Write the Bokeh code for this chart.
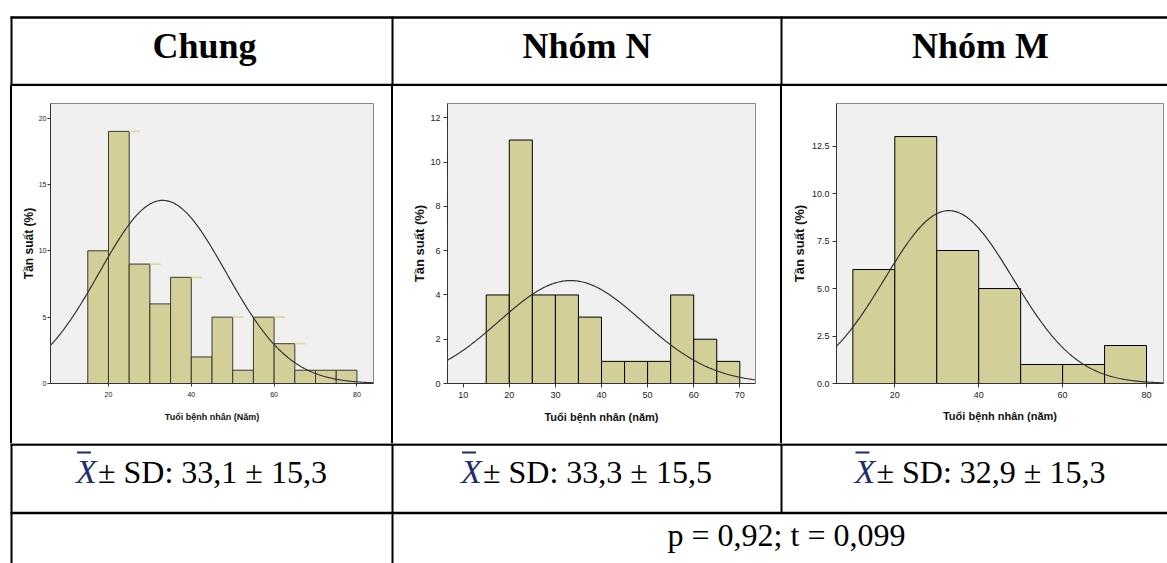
import numpy as np
from bokeh.plotting import figure
from bokeh.layouts import column, row
from bokeh.models import Range1d, Div, Spacer, FixedTicker, NumeralTickFormatter
from bokeh.core.properties import value
from bokeh.embed import file_html
from bokeh.resources import INLINE

# ---- table content -------------------------------------------------------
headers = ["Chung", "Nhóm N", "Nhóm M"]
means = [33.1, 33.3, 32.9]
sds = [15.3, 15.5, 15.3]
p_text = "p = 0,92; t = 0,099"

# ---- age histograms (percent per age bin) --------------------------------
chung_edges = [15, 20, 25, 30, 35, 40, 45, 50, 55, 60, 65, 70, 75, 80]
chung_counts = [10, 19, 9, 6, 8, 2, 5, 1, 5, 3, 1, 1, 1]
n_edges = [15, 20, 25, 30, 35, 40, 45, 50, 55, 60, 65, 70]
n_counts = [4, 11, 4, 4, 3, 1, 1, 1, 4, 2, 1]
m_edges = [10, 20, 30, 40, 50, 60, 70, 80]
m_counts = [6, 13, 7, 5, 1, 1, 2]
# peak height of the fitted normal curve in each panel
curve_peaks = [13.8, 4.65, 9.1]
# bins of the "Chung" panel whose top edge carries a pale highlight stroke
chung_highlight_bins = [1, 2, 4, 6, 8, 9]

x_labels = ["Tuổi bệnh nhân (Năm)", "Tuổi bệnh nhân (năm)", "Tuổi bệnh nhân (năm)"]
y_label = "Tần suất (%)"

SERIF = value("Liberation Serif")
SANS = "Liberation Sans"
BAR_FILL = "#d3cf98"
FRAME_FILL = "#f0f0f0"

PAGE_W = 1167
HEAD_H = 86
ROW_H = 357
FOOT_H = 120
RULE = "black"
BODY_SIZE = 32          # px, body text of the table
XBAR_COLOR = "#1f2d6b"

# vertical anchor of each text line (page pixels)
HEAD_Y = 45
STAT_Y = 471
P_Y = 534
OVERLINE_Y = 452


def fmt(v):
    return f"{v:.1f}".replace(".", ",")


def histogram(edges, counts, mean, sd, peak, xr, yr, xticks, yticks,
              width, borders, xlabel, tick_size, label_sizes, yfmt=None,
              bar_line="black", standoffs=(3, 1, 4, 8), tick_out=4):
    left, right, top, bottom = borders
    p = figure(width=width, height=ROW_H, x_range=Range1d(*xr), y_range=Range1d(*yr),
               output_backend="svg", toolbar_location=None,
               min_border_left=left, min_border_right=right,
               min_border_top=top, min_border_bottom=bottom, margin=0)
    p.background_fill_color = FRAME_FILL
    p.border_fill_color = "white"
    p.outline_line_color = "#8a8a8a"
    p.outline_line_width = 1
    p.xgrid.visible = False
    p.ygrid.visible = False

    p.quad(left=edges[:-1], right=edges[1:], bottom=0, top=counts,
           fill_color=BAR_FILL, line_color=bar_line, line_width=1)

    xs = np.linspace(xr[0], xr[1], 300)
    ys = peak * np.exp(-0.5 * ((xs - mean) / sd) ** 2)
    p.line(xs, ys, line_color="#333333", line_width=1.2)

    for ax, ticks in ((p.xaxis, xticks), (p.yaxis, yticks)):
        ax.ticker = FixedTicker(ticks=ticks)
        ax.axis_line_color = "#333333"
        ax.major_tick_line_color = "#333333"
        ax.major_tick_out = tick_out
        ax.major_tick_in = 0
        ax.minor_tick_line_color = None
        ax.major_label_text_font = SANS
        ax.major_label_text_font_size = tick_size
        ax.major_label_text_color = "#222222"
        ax.axis_label_text_font = SANS
        ax.axis_label_text_font_style = "bold"
        ax.axis_label_text_color = "#111111"
    p.yaxis.major_label_standoff = standoffs[0]
    p.yaxis.axis_label_standoff = standoffs[1]
    p.xaxis.major_label_standoff = standoffs[2]
    p.xaxis.axis_label_standoff = standoffs[3]
    p.yaxis.major_label_orientation = "horizontal"
    if yfmt:
        p.yaxis.formatter = NumeralTickFormatter(format=yfmt)
    p.xaxis.axis_label = xlabel
    p.yaxis.axis_label = y_label
    p.xaxis.axis_label_text_font_size = label_sizes[0]
    p.yaxis.axis_label_text_font_size = label_sizes[1]
    return p


# ---- histogram panels ----------------------------------------------------
h_chung = histogram(chung_edges, chung_counts, means[0], sds[0], curve_peaks[0],
                    (6, 84), (0, 21.1), [20, 40, 60, 80], [0, 5, 10, 15, 20],
                    379, (38, 18, 9, 60), x_labels[0], "7px", ("9px", "12px"),
                    bar_line="#3a3a34", standoffs=(1, 0, 5, 12), tick_out=3)
# pale strokes along some bar tops
hb = chung_highlight_bins
h_chung.segment(x0=[chung_edges[i + 1] for i in hb], x1=[chung_edges[i + 1] + 2.6 for i in hb],
                y0=[chung_counts[i] for i in hb], y1=[chung_counts[i] for i in hb],
                line_color="#dedb98", line_width=1.8)

h_n = histogram(n_edges, n_counts, means[1], sds[1], curve_peaks[1],
                (6.6, 73.4), (0, 12.65), list(range(10, 71, 10)), list(range(0, 13, 2)),
                387, (54, 25, 10, 56), x_labels[1], "9px", ("11px", "13px"),
                standoffs=(3, 0, 4, 10))

h_m = histogram(m_edges, m_counts, means[2], sds[2], curve_peaks[2],
                (6.1, 84.05), (0, 14.74), [20, 40, 60, 80], [0, 2.5, 5, 7.5, 10, 12.5],
                385, (54, 4, 17, 58), x_labels[2], "9px", ("11px", "13px"),
                yfmt="0.0", standoffs=(3, 2, 4, 9))


def blank(height, y_top):
    p = figure(width=PAGE_W, height=height, x_range=Range1d(0, PAGE_W),
               y_range=Range1d(y_top + height, y_top), output_backend="svg",
               toolbar_location=None, min_border=0, margin=0,
               x_axis_location=None, y_axis_location=None)
    p.outline_line_color = None
    p.xgrid.visible = False
    p.ygrid.visible = False
    p.background_fill_color = "white"
    p.border_fill_color = "white"
    return p


col_lines = [11, 392, 781]
cell_centers = [204, 586.5, 980]

# ---- header row ----------------------------------------------------------
head = blank(HEAD_H, 0)
head.segment(x0=[10, 10], x1=[PAGE_W, PAGE_W], y0=[17, 84.5], y1=[17, 84.5],
             line_color=RULE, line_width=2.5)
head.segment(x0=col_lines, x1=col_lines, y0=[16] * 3, y1=[HEAD_H] * 3,
             line_color=RULE, line_width=2)
head.text(x=cell_centers, y=[HEAD_Y] * 3, text=headers, text_font=SERIF,
          text_font_style="bold", text_font_size="36px", text_align="center",
          text_baseline="alphabetic", text_color="black")

# ---- footer rows (mean ± SD, test result) --------------------------------
foot = blank(FOOT_H, HEAD_H + ROW_H)
foot.segment(x0=[10, 10], x1=[PAGE_W, PAGE_W], y0=[444, 512.5], y1=[444, 512.5],
             line_color=RULE, line_width=2.5)
foot.segment(x0=col_lines, x1=col_lines, y0=[443] * 3, y1=[563, 563, 512.5],
             line_color=RULE, line_width=2)

# each "X̄ ± SD" group is centred in its cell; the rest follows the barred X
stat_centers = [201.5, 586.5, 980]
stat_texts = [f"± SD: {fmt(m)} ± {fmt(s)}" for m, s in zip(means, sds)]
x_left = [c - 126 for c in stat_centers]
foot.text(x=x_left, y=[STAT_Y] * 3, text=["X"] * 3, text_font=SERIF,
          text_font_style="italic", text_font_size="34px", text_align="left",
          text_baseline="alphabetic", text_color=XBAR_COLOR)
foot.segment(x0=[x + 1 for x in x_left], x1=[x + 15 for x in x_left],
             y0=[OVERLINE_Y] * 3, y1=[OVERLINE_Y] * 3, line_color=XBAR_COLOR, line_width=1.8)
foot.text(x=[x + 22 for x in x_left], y=[STAT_Y] * 3, text=stat_texts,
          text_font=SERIF, text_font_size=f"{BODY_SIZE}px", text_align="left",
          text_baseline="alphabetic", text_color="black")
foot.text(x=[786], y=[P_Y], text=[p_text], text_font=SERIF,
          text_font_size=f"{BODY_SIZE}px", text_align="center",
          text_baseline="alphabetic", text_color="black")


def vrule():
    return Div(text="", width=2, height=ROW_H, margin=0,
               styles={"background-color": RULE})


hist_row = row(Spacer(width=10, height=ROW_H, margin=0), vrule(), h_chung, vrule(),
               h_n, vrule(), h_m, spacing=0)
page = column(head, hist_row, foot, spacing=0)

open("out.html", "w").write(file_html(page, INLINE))
